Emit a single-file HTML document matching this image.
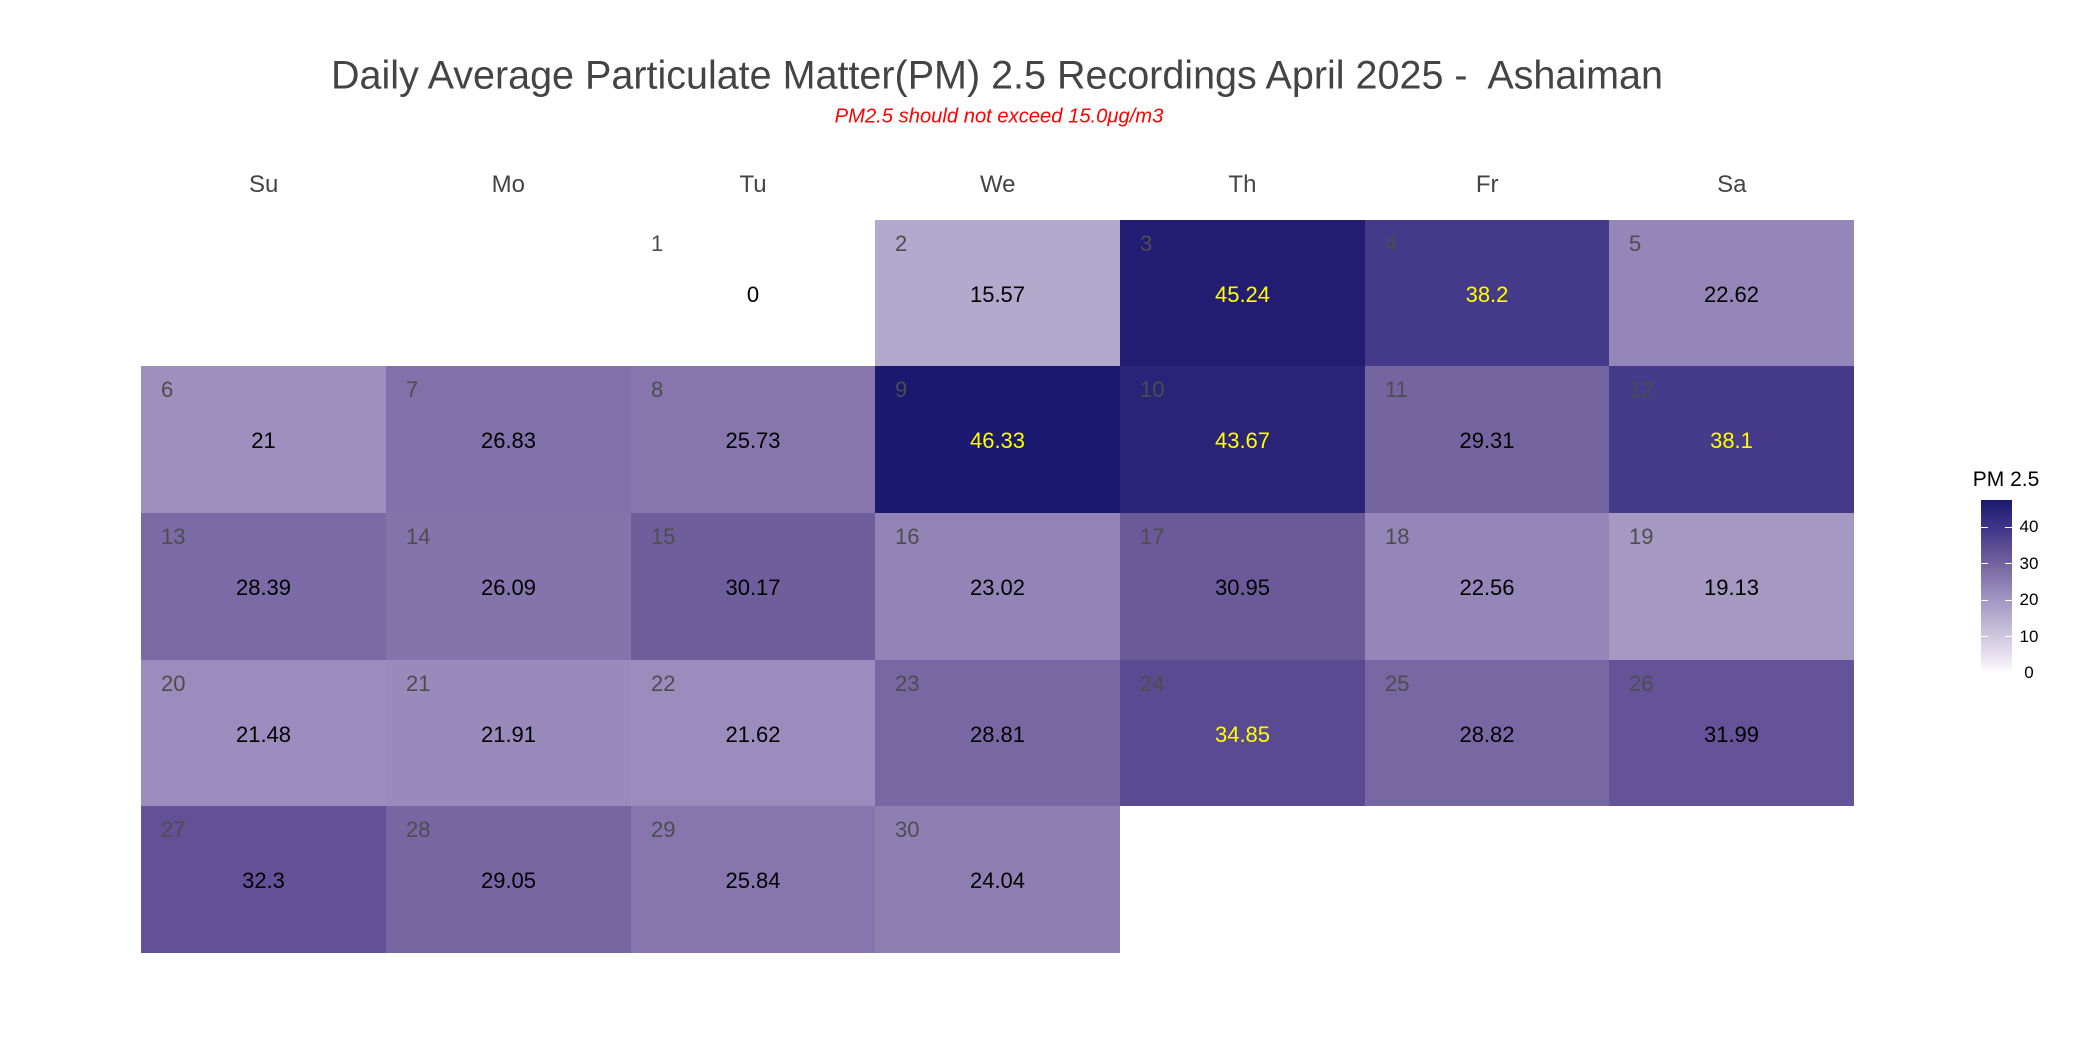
<!DOCTYPE html>
<html><head><meta charset="utf-8"><style>
body{margin:0;background:#fff;font-family:"Liberation Sans",sans-serif;}
#c{position:relative;width:2080px;height:1063px;overflow:hidden;}
.t{position:absolute;white-space:nowrap;transform:translate(-50%,-50%);}
.cell{position:absolute;}
.dn{position:absolute;left:20px;top:24px;transform:translateY(-50%);font-size:22px;color:#4d4d4d;}
.v{position:absolute;left:50%;top:75px;transform:translate(-50%,-50%);font-size:22px;}
</style></head><body><div id="c">
<div class="t" style="left:997px;top:76px;font-size:39.5px;color:#444;">Daily Average Particulate Matter(PM) 2.5 Recordings April 2025 -&nbsp; Ashaiman</div>
<div class="t" style="left:999px;top:117px;font-size:20.2px;color:#f00;font-style:italic;">PM2.5 should not exceed 15.0μg/m3</div>
<div class="t" style="left:2006px;top:480px;font-size:21px;color:#000;">PM 2.5</div>
<div style="position:absolute;left:1981px;top:500px;width:31px;height:173px;background:linear-gradient(to top,#fff 0%,#e8e0f0 10%,#c6bfd8 25%,#9c90bf 45%,#6e5f9c 65%,#45398a 82%,#191970 100%);"></div>
</div>
<script>
var C=document.getElementById('c');
var stops=[[0,[255,255,255]],[15.57,[179,169,205]],[21,[157,143,190]],[22.62,[148,134,184]],[25.73,[134,118,173]],[28.39,[122,106,165]],[30.17,[110,95,156]],[32.3,[98,81,151]],[34.85,[90,74,145]],[38.2,[69,57,138]],[43.67,[42,35,120]],[45.24,[34,29,114]],[46.33,[27,24,111]]];
function col(v){for(var i=1;i<stops.length;i++){if(v<=stops[i][0]){var a=stops[i-1],b=stops[i],f=(v-a[0])/(b[0]-a[0]);return 'rgb('+a[1].map(function(x,k){return Math.round(x+(b[1][k]-x)*f)}).join(',')+')';}}return 'rgb(27,24,111)';}
var W=244.7,H=146.7,X0=141.3,Y0=219.5;
var days=['Su','Mo','Tu','We','Th','Fr','Sa'];
days.forEach(function(d,i){var e=document.createElement('div');e.className='t';e.style.cssText='left:'+(X0+W*i+W/2)+'px;top:185px;font-size:24px;color:#444;';e.textContent=d;C.appendChild(e);});
var vals=[0,15.57,45.24,38.2,22.62,21,26.83,25.73,46.33,43.67,29.31,38.1,28.39,26.09,30.17,23.02,30.95,22.56,19.13,21.48,21.91,21.62,28.81,34.85,28.82,31.99,32.3,29.05,25.84,24.04];
vals.forEach(function(v,i){var p=i+2,r=Math.floor(p/7),c=p%7;var e=document.createElement('div');e.className='cell';
var l=Math.round(X0+W*c),rr=Math.round(X0+W*(c+1)),t=Math.round(Y0+H*r),b=Math.round(Y0+H*(r+1));
e.style.left=l+'px';e.style.top=t+'px';e.style.width=(rr-l)+'px';e.style.height=(b-t)+'px';e.style.background=v==0?'#fff':col(v);
e.innerHTML='<div class="dn">'+(i+1)+'</div><div class="v" style="color:'+(v>34?'#ff0':'#000')+'">'+v+'</div>';C.appendChild(e);});
[0,10,20,30,40].forEach(function(t){var y=673-t*3.65;var e=document.createElement('div');e.className='t';e.style.cssText='left:2029px;top:'+y+'px;font-size:17px;color:#000;';e.textContent=t;C.appendChild(e);
if(t>0){['1981','2005'].forEach(function(x){var k=document.createElement('div');k.style.cssText='position:absolute;left:'+x+'px;top:'+(y-0.5)+'px;width:7px;height:1px;background:#fff;';C.appendChild(k);});}});
</script></body></html>
